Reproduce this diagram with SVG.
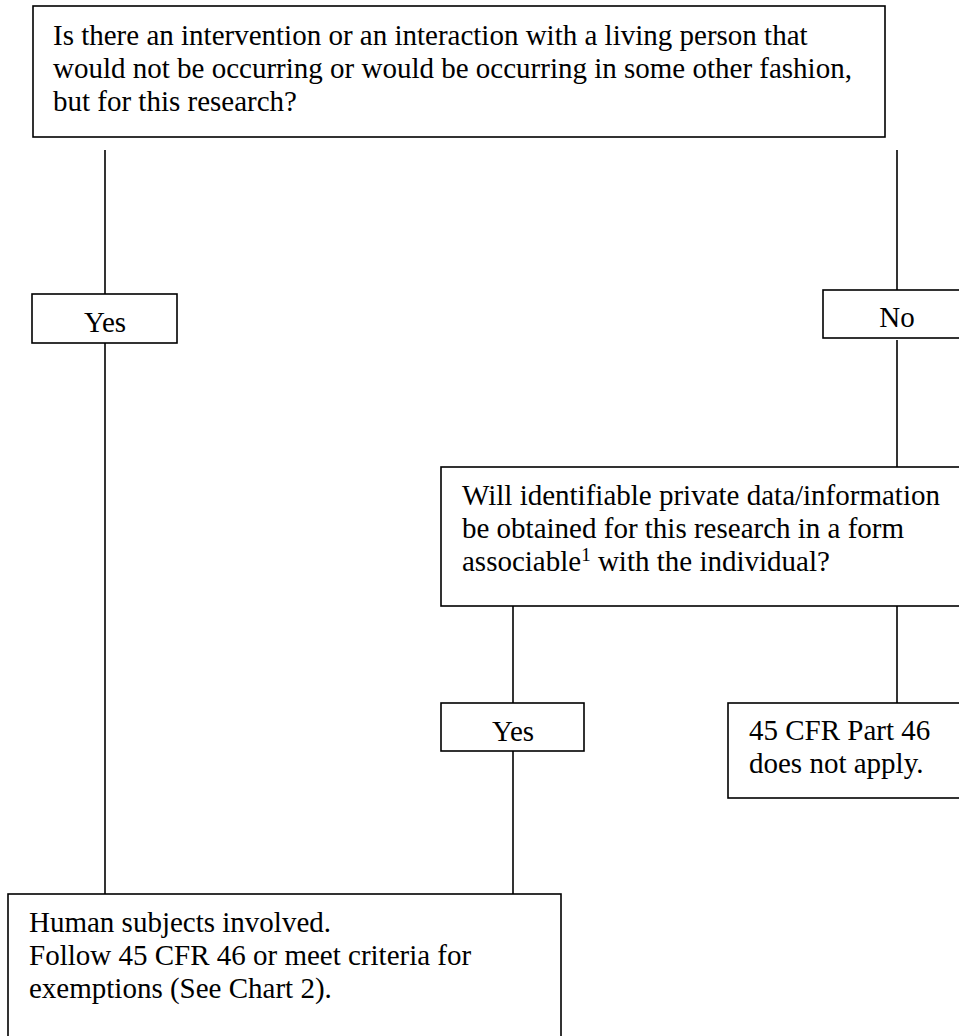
<svg xmlns="http://www.w3.org/2000/svg" width="959" height="1036" viewBox="0 0 959 1036">
<style>
.box{fill:#fff;stroke:#000;stroke-width:1.6}
.ln{stroke:#000;stroke-width:1.6;fill:none}
text{font-family:"Liberation Serif","Times New Roman",serif;font-size:29px;fill:#000}
.c{text-anchor:middle}
.sup{font-size:19px}
</style>
<rect width="959" height="1036" fill="#fff"/>
<g id="connectors">
<line class="ln" x1="105" y1="150" x2="105" y2="294"/>
<line class="ln" x1="897" y1="150" x2="897" y2="290"/>
<line class="ln" x1="105" y1="343" x2="105" y2="894"/>
<line class="ln" x1="897" y1="340" x2="897" y2="467"/>
<line class="ln" x1="513" y1="606" x2="513" y2="703"/>
<line class="ln" x1="897" y1="606" x2="897" y2="703"/>
<line class="ln" x1="513" y1="751" x2="513" y2="894"/>
</g>
<g id="q1">
<rect class="box" x="33" y="6" width="852" height="131"/>
<text x="53" y="45">Is there an intervention or an interaction with a living person that</text>
<text x="53" y="78">would not be occurring or would be occurring in some other fashion,</text>
<text x="53" y="111">but for this research?</text>
</g>
<g id="yes1">
<rect class="box" x="32" y="294" width="145" height="49"/>
<text class="c" x="105" y="332">Yes</text>
</g>
<g id="no1">
<rect class="box" x="823" y="290" width="150" height="48"/>
<text class="c" x="897" y="327">No</text>
</g>
<g id="q2">
<rect class="box" x="441" y="467" width="535" height="139"/>
<text x="462" y="505">Will identifiable private data/information</text>
<text x="462" y="538">be obtained for this research in a form</text>
<text x="462" y="571">associable<tspan class="sup" dy="-10">1</tspan><tspan dy="10"> with the individual?</tspan></text>
</g>
<g id="yes2">
<rect class="box" x="441" y="703" width="143" height="48"/>
<text class="c" x="513" y="741">Yes</text>
</g>
<g id="notapply">
<rect class="box" x="728" y="703" width="248" height="95"/>
<text x="749" y="740">45 CFR Part 46</text>
<text x="749" y="773">does not apply.</text>
</g>
<g id="human">
<rect class="box" x="8" y="894" width="553" height="160"/>
<text x="29" y="932">Human subjects involved.</text>
<text x="29" y="965">Follow 45 CFR 46 or meet criteria for</text>
<text x="29" y="998">exemptions (See Chart 2).</text>
</g>
</svg>
